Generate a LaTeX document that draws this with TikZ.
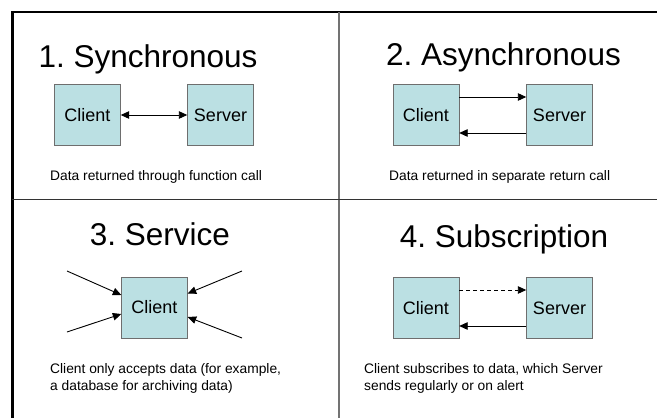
\documentclass[tikz,border=0pt]{standalone}
\usepackage{fontspec}
\setmainfont{Liberation Sans}
\usetikzlibrary{arrows.meta}
\definecolor{boxfill}{RGB}{187,224,227}
\definecolor{boxline}{RGB}{110,110,110}
\frenchspacing
\begin{document}
\begin{tikzpicture}[x=1pt, y=-1pt,
  unit/.style={draw=boxline, fill=boxfill, minimum width=66pt, minimum height=61pt,
    inner sep=0pt, font=\fontsize{18}{20}\selectfont},
  heading/.style={anchor=base, inner sep=0pt, font=\fontsize{31.5}{36}\selectfont},
  note/.style={anchor=base west, inner sep=0pt, align=left, font=\fontsize{13.8}{17}\selectfont},
  link/.style={-{Triangle[length=8.5pt,width=7.5pt]}, line width=0.9pt}]
\useasboundingbox (0,0) rectangle (657,418);
% frame and dividers
\draw[line width=2.6pt] (12.5,418) -- (12.5,12) -- (657,12);
\draw[line width=1.2pt, black!55] (339,12) -- (339,418);
\draw[line width=1pt, black!80] (12,199) -- (657,199);
% 1. synchronous
\node[heading] (t1) at (148,67) {1. Synchronous};
\node[unit] (c1) at (87.5,115) {Client};
\node[unit] (s1) at (220.5,115) {Server};
\draw[link, {Triangle[length=8.5pt,width=7.5pt]}-{Triangle[length=8.5pt,width=7.5pt]}] (c1) -- (s1);
\node[note] (n1) at (50,180) {Data returned through function call};
% 2. asynchronous
\node[heading] (t2) at (503.5,65) {2. Asynchronous};
\node[unit] (c2) at (426,115) {Client};
\node[unit] (s2) at (559.5,115) {Server};
\draw[link] ([yshift=18pt]c2.east) -- ([yshift=18pt]s2.west);
\draw[link] ([yshift=-18pt]s2.west) -- ([yshift=-18pt]c2.east);
\node[note] (n2) at (389,180) {Data returned in separate return call};
% 3. service
\node[heading] (t3) at (160,245) {3. Service};
\node[unit] (c3) at (154.5,307.5) {Client};
\coordinate (in1) at (67,271);
\coordinate (in2) at (67,332);
\coordinate (in3) at (242,271);
\coordinate (in4) at (242,338);
\draw[link] (in1) -- ([yshift=12.5pt]c3.west);
\draw[link] (in2) -- ([yshift=-6.5pt]c3.west);
\draw[link] (in3) -- ([yshift=14pt]c3.east);
\draw[link] (in4) -- ([yshift=-9.5pt]c3.east);
\node[note] (n3) at (50,390) {Client only accepts data (for example,\\a database for archiving data)};
% 4. subscription
\node[heading] (t4) at (504,247) {4. Subscription};
\node[unit] (c4) at (426,308) {Client};
\node[unit] (s4) at (559.5,308) {Server};
\draw[link, dash pattern=on 4pt off 3pt] ([yshift=18pt]c4.east) -- ([yshift=18pt]s4.west);
\draw[link] ([yshift=-18pt]s4.west) -- ([yshift=-18pt]c4.east);
\node[note] (n4) at (364,390) {Client subscribes to data, which Server\\sends regularly or on alert};
\end{tikzpicture}
\end{document}
